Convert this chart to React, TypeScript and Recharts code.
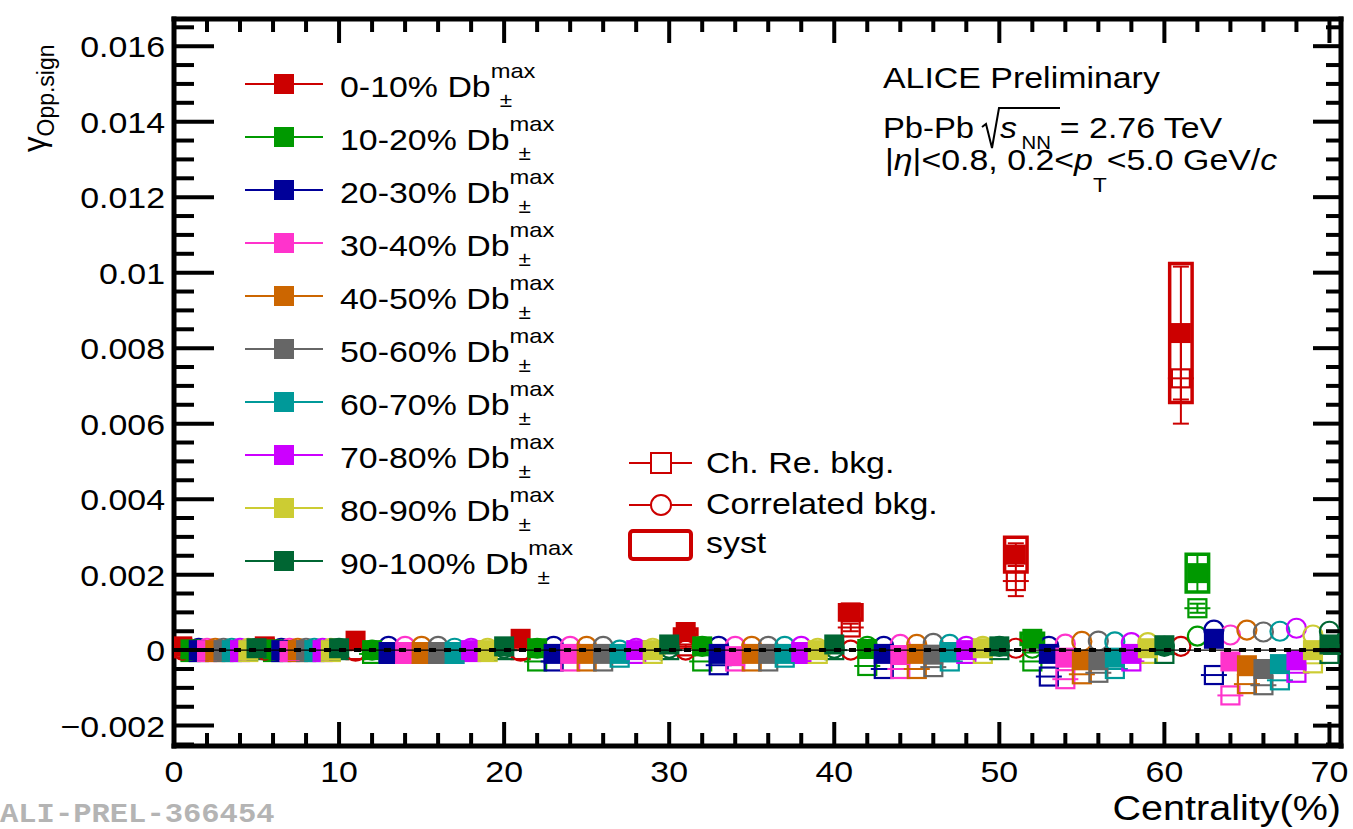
import React from "react";
import { ScatterChart, Scatter, XAxis, YAxis, ErrorBar, ReferenceArea } from "recharts";

const FONT = "'Liberation Sans', Arial, Helvetica, sans-serif";
const SX = 1.13; // the picture is stretched horizontally

// centrality bins; each bin holds the 10 Db classes side by side
const binLow = [0, 5, 10, 20, 30, 40, 50, 60];
const binStep = [0.5, 0.5, 1, 1, 1, 1, 1, 1];

const xMajorTicks = [0, 10, 20, 30, 40, 50, 60, 70];
const xTickLabels = ["0", "10", "20", "30", "40", "50", "60", "70"];
const yMajorTicks = [-0.002, 0, 0.002, 0.004, 0.006, 0.008, 0.01, 0.012, 0.014, 0.016];
const yTickLabels = ["\u22120.002", "0", "0.002", "0.004", "0.006", "0.008", "0.01", "0.012", "0.014", "0.016"];

// gamma opp. sign, filled markers (one value per centrality bin)
const gamma_0_10 = [0.0001, 0.0001, 0.00025, 0.0003, 0.00048, 0.001, 0.00253, 0.0084];
const gamma_10_20 = [0.00002, 0.00002, 0.0, 0.00005, 0.0001, 0.00003, 0.0003, 0.00204];
const gamma_20_30 = [0.0, 0.0, -0.00005, -0.0001, -0.0001, -0.0001, -0.0001, 0.0003];
const gamma_30_40 = [0.0, -0.00002, -0.00005, -0.0001, -0.00016, -0.00013, -0.0002, -0.0003];
const gamma_40_50 = [0.0, 0.0, -0.00005, -0.0001, -0.0001, -0.0001, -0.00027, -0.0004];
const gamma_50_60 = [0.0, 0.0, -0.00005, -0.0001, -0.0001, -0.00012, -0.00027, -0.0005];
const gamma_60_70 = [0.0, 0.0, -0.00005, -0.0001, -0.0001, -0.00005, -0.0002, -0.00037];
const gamma_70_80 = [0.0, 0.0, 0.0, 0.0, -0.00005, 0.0, -0.0001, -0.00027];
const gamma_80_90 = [0.0, 0.0, 0.0, 0.0, 0.0, 0.00005, 0.00005, 0.0];
const gamma_90_100 = [0.00005, 0.00005, 0.0001, 0.00015, 0.00015, 0.0001, 0.00013, 0.00015];

// charge reshuffled background (open squares)
const chRe_0_10 = [0.00005, 0.00005, 0.0, 0.0, 0.0001, 0.0006, 0.00183, 0.0072];
const chRe_10_20 = [-0.00005, -0.00005, -0.0001, -0.0003, -0.0003, -0.00042, -0.0003, 0.00111];
const chRe_20_30 = [-0.00005, -0.00005, -0.0001, -0.0003, -0.0004, -0.0005, -0.0007, -0.00066];
const chRe_30_40 = [-0.00005, -0.00005, -0.0001, -0.0003, -0.0003, -0.0005, -0.00077, -0.0012];
const chRe_40_50 = [-0.00005, -0.00005, -0.0001, -0.0003, -0.0003, -0.0005, -0.00064, -0.0009];
const chRe_50_60 = [-0.00005, -0.00005, -0.0001, -0.0003, -0.0003, -0.00045, -0.0006, -0.00093];
const chRe_60_70 = [-0.00005, -0.00005, -0.0001, -0.0002, -0.0002, -0.0003, -0.0005, -0.0008];
const chRe_70_80 = [-0.00005, -0.00005, -0.00005, -0.0001, -0.0001, -0.0001, -0.0003, -0.0006];
const chRe_80_90 = [-0.00005, -0.00005, -0.00005, -0.0001, -0.0001, -0.0001, -0.0001, -0.00035];
const chRe_90_100 = [0.0, 0.0, 0.0, 0.0, 0.0, 0.0, -0.0001, -0.0001];

// correlated background (open circles)
const corr_0_10 = [0.0, 0.0, -0.00003, -0.00003, 0.0, 0.0, 0.00005, 0.0001];
const corr_10_20 = [0.0, 0.0, 0.0, 0.00005, 0.0001, 0.0001, 0.00005, 0.00037];
const corr_20_30 = [0.00005, 0.00005, 0.0001, 0.0001, 0.0001, 0.0001, 0.0001, 0.00053];
const corr_30_40 = [0.00005, 0.00005, 0.0001, 0.0001, 0.0001, 0.00015, 0.00016, 0.0004];
const corr_40_50 = [0.00005, 0.00005, 0.0001, 0.0001, 0.0001, 0.00015, 0.00023, 0.00053];
const corr_50_60 = [0.00005, 0.00005, 0.0001, 0.0001, 0.0001, 0.00018, 0.00024, 0.00048];
const corr_60_70 = [0.00005, 0.00005, 0.00005, 0.0, 0.0001, 0.00015, 0.00022, 0.0005];
const corr_70_80 = [0.00005, 0.00005, 0.00005, 0.00005, 0.0001, 0.0001, 0.0002, 0.00058];
const corr_80_90 = [0.00005, 0.00005, 0.00005, 0.00005, 0.00005, 0.0001, 0.0002, 0.0004];
const corr_90_100 = [0.00005, 0.00005, 0.00005, 0.00005, 0.00005, 0.0001, 0.0001, 0.0005];

// errors (only visible for the most central classes)
const stat_0_10 = [0.00002, 0.00002, 0.00004, 0.00005, 0.00008, 0.0001, 0.0003, 0.00176];
const syst_0_10 = [0.0, 0.0, 0.0, 0.0, 0.00008, 0.0002, 0.00046, 0.00184];
const chReErr_0_10 = [0.0, 0.0, 0.0, 0.0, 0.00005, 0.0001, 0.0004, 0.0012];
const stat_10_20 = [0.0, 0.0, 0.0, 0.0, 0.0, 0.0, 0.0001, 0.0005];
const syst_10_20 = [0.0, 0.0, 0.0, 0.0, 0.0, 0.0, 0.00015, 0.0005];
const chReErr_10_20 = [0.0, 0.0, 0.0, 0.0, 0.0, 0.0, 0.0, 0.00012];
const noErr = [0, 0, 0, 0, 0, 0, 0, 0];

const classes = [
  { label: "0-10%", color: "#cc0000", main: gamma_0_10, chRe: chRe_0_10, corr: corr_0_10, stat: stat_0_10, syst: syst_0_10, chReErr: chReErr_0_10 },
  { label: "10-20%", color: "#009900", main: gamma_10_20, chRe: chRe_10_20, corr: corr_10_20, stat: stat_10_20, syst: syst_10_20, chReErr: chReErr_10_20 },
  { label: "20-30%", color: "#000099", main: gamma_20_30, chRe: chRe_20_30, corr: corr_20_30, stat: noErr, syst: noErr, chReErr: noErr },
  { label: "30-40%", color: "#ff33cc", main: gamma_30_40, chRe: chRe_30_40, corr: corr_30_40, stat: noErr, syst: noErr, chReErr: noErr },
  { label: "40-50%", color: "#cc6600", main: gamma_40_50, chRe: chRe_40_50, corr: corr_40_50, stat: noErr, syst: noErr, chReErr: noErr },
  { label: "50-60%", color: "#666666", main: gamma_50_60, chRe: chRe_50_60, corr: corr_50_60, stat: noErr, syst: noErr, chReErr: noErr },
  { label: "60-70%", color: "#009999", main: gamma_60_70, chRe: chRe_60_70, corr: corr_60_70, stat: noErr, syst: noErr, chReErr: noErr },
  { label: "70-80%", color: "#cc00ff", main: gamma_70_80, chRe: chRe_70_80, corr: corr_70_80, stat: noErr, syst: noErr, chReErr: noErr },
  { label: "80-90%", color: "#cccc33", main: gamma_80_90, chRe: chRe_80_90, corr: corr_80_90, stat: noErr, syst: noErr, chReErr: noErr },
  { label: "90-100%", color: "#006633", main: gamma_90_100, chRe: chRe_90_100, corr: corr_90_100, stat: noErr, syst: noErr, chReErr: noErr },
];

const X_MAX = 70.7;
const Y_MIN = -0.00254;
const Y_MAX = 0.01672;
const BOX_HALF = 0.68;

// zero reference line, drawn on top of the markers
const zeroLine = [{ x: 0, y: 0 }, { x: X_MAX, y: 0 }];

const xAll: number[] = [];
for (let v = 0; v <= 70; v += 2) xAll.push(v);
const yAll: number[] = [];
for (let i = -5; i <= 33; i++) yAll.push(i * 0.0005);

const isMajor = (arr: number[], v: number) => arr.findIndex((t) => Math.abs(t - v) < 1e-9);

const points = (vals: number[], k: number, errs: number[]) =>
  vals.map((y, b) => ({ x: binLow[b] + (k + 1) * binStep[b], y, err: errs[b] }));

function T({ x, y, size = 30, anchor = "start", children, color = "#000", italic = false }: any) {
  return (
    <text transform={`translate(${x},${y}) scale(${SX},1)`} fontSize={size} fontFamily={FONT} textAnchor={anchor} fill={color}
      fontStyle={italic ? "italic" : "normal"}>
      {children}
    </text>
  );
}

const LeftTick = (p: any) => {
  const i = isMajor(yMajorTicks, p.payload.value);
  return (
    <g>
      <line x1={p.x} x2={p.x + (i >= 0 ? 40 : 20)} y1={p.y} y2={p.y} stroke="#000" strokeWidth={4} />
      {i >= 0 && <T x={p.x - 9} y={p.y + 11} anchor="end">{yTickLabels[i]}</T>}
    </g>
  );
};
const RightTick = (p: any) => {
  const i = isMajor(yMajorTicks, p.payload.value);
  return <line x1={p.x} x2={p.x - (i >= 0 ? 28 : 15)} y1={p.y} y2={p.y} stroke="#000" strokeWidth={4} />;
};
const BottomTick = (p: any) => {
  const i = isMajor(xMajorTicks, p.payload.value);
  return (
    <g>
      <line x1={p.x} x2={p.x} y1={p.y} y2={p.y - (i >= 0 ? 24 : 13)} stroke="#000" strokeWidth={4} />
      {i >= 0 && <T x={p.x} y={p.y + 36} anchor="middle">{xTickLabels[i]}</T>}
    </g>
  );
};
const TopTick = (p: any) => {
  const i = isMajor(xMajorTicks, p.payload.value);
  return <line x1={p.x} x2={p.x} y1={p.y} y2={p.y + (i >= 0 ? 24 : 13)} stroke="#000" strokeWidth={4} />;
};

const filledSquare = (c: string) => (p: any) => <rect x={p.cx - 10} y={p.cy - 10} width={20} height={20} fill={c} />;
const openSquare = (c: string) => (p: any) => (
  <g>
    <rect x={p.cx - 9} y={p.cy - 9} width={18} height={18} fill="none" stroke={c} strokeWidth={2.2} />
    <line x1={p.cx - 13} x2={p.cx + 13} y1={p.cy} y2={p.cy} stroke={c} strokeWidth={2} />
  </g>
);
const openCircle = (c: string) => (p: any) => <circle cx={p.cx} cy={p.cy} r={9.5} fill="none" stroke={c} strokeWidth={2.2} />;
const noMarker = () => <g />;

const legendRows = classes.map((c, i) => ({ ...c, y: 84 + i * 53 }));

export default function App() {
  return (
    <div style={{ position: "absolute", left: 0, top: 0, width: 1353, height: 829, background: "#fff" }}>
      <ScatterChart width={1353} height={829} margin={{ top: 0, right: 0, bottom: 0, left: 0 }}>
        <XAxis xAxisId="b" type="number" dataKey="x" domain={[0, X_MAX]} allowDataOverflow ticks={xAll} interval={0}
          tickSize={0} tickMargin={0} height={83} tickLine={false} tick={<BottomTick />}
          axisLine={{ stroke: "#000", strokeWidth: 5, strokeLinecap: "square" }} />
        <XAxis xAxisId="t" orientation="top" type="number" dataKey="x" domain={[0, X_MAX]} allowDataOverflow ticks={xAll} interval={0}
          tickSize={0} tickMargin={0} height={19} tickLine={false} tick={<TopTick />}
          axisLine={{ stroke: "#000", strokeWidth: 5, strokeLinecap: "square" }} />
        <YAxis yAxisId="l" type="number" dataKey="y" domain={[Y_MIN, Y_MAX]} allowDataOverflow ticks={yAll} interval={0}
          tickSize={0} tickMargin={0} width={174} tickLine={false} tick={<LeftTick />}
          axisLine={{ stroke: "#000", strokeWidth: 5, strokeLinecap: "square" }} />
        <YAxis yAxisId="r" orientation="right" type="number" dataKey="y" domain={[Y_MIN, Y_MAX]} allowDataOverflow ticks={yAll} interval={0}
          tickSize={0} tickMargin={0} width={12} tickLine={false} tick={<RightTick />}
          axisLine={{ stroke: "#000", strokeWidth: 5, strokeLinecap: "square" }} />

        {classes.map((c, k) =>
          c.main.map((y, b) =>
            c.syst[b] > 0 ? (
              <ReferenceArea key={`syst-${k}-${b}`} xAxisId="b" yAxisId="l"
                x1={binLow[b] + (k + 1) * binStep[b] - BOX_HALF} x2={binLow[b] + (k + 1) * binStep[b] + BOX_HALF}
                y1={y - c.syst[b]} y2={y + c.syst[b]} fill="none" stroke={c.color} strokeWidth={3.5} ifOverflow="visible" />
            ) : null
          )
        )}

        {classes.map((c, k) => (
          <Scatter key={`chre-${k}`} xAxisId="b" yAxisId="l" data={points(c.chRe, k, c.chReErr)} shape={openSquare(c.color)} isAnimationActive={false}>
            <ErrorBar dataKey="err" direction="y" width={8} stroke={c.color} strokeWidth={2} />
          </Scatter>
        ))}
        {classes.map((c, k) => (
          <Scatter key={`corr-${k}`} xAxisId="b" yAxisId="l" data={points(c.corr, k, noErr)} shape={openCircle(c.color)} isAnimationActive={false} />
        ))}
        {classes.map((c, k) => (
          <Scatter key={`main-${k}`} xAxisId="b" yAxisId="l" data={points(c.main, k, c.stat)} shape={filledSquare(c.color)} isAnimationActive={false}>
            <ErrorBar dataKey="err" direction="y" width={8} stroke={c.color} strokeWidth={2} />
          </Scatter>
        ))}

        <Scatter xAxisId="b" yAxisId="l" data={zeroLine} shape={noMarker} isAnimationActive={false}
          line={{ stroke: "#000", strokeWidth: 1.2 }} />
        <Scatter xAxisId="b" yAxisId="l" data={zeroLine} shape={noMarker} isAnimationActive={false}
          line={{ stroke: "#000", strokeWidth: 4, strokeDasharray: "7 8" }} />
      </ScatterChart>

      <svg width={1353} height={829} style={{ position: "absolute", left: 0, top: 0, pointerEvents: "none" }}>
        {/* Db class legend */}
        {legendRows.map((r) => (
          <g key={r.label}>
            <line x1={245} x2={323} y1={r.y} y2={r.y} stroke={r.color} strokeWidth={2} />
            <rect x={274} y={r.y - 10} width={20} height={20} fill={r.color} />
            <text transform={`translate(340,${r.y + 13}) scale(${SX},1)`} fontSize={30} fontFamily={FONT}>
              {`${r.label} Db`}
              <tspan dx={8} dy={10} fontSize={20}>±</tspan>
              <tspan dx={-19} dy={-29} fontSize={21}>max</tspan>
            </text>
          </g>
        ))}

        {/* background legend */}
        <line x1={629} x2={692} y1={463} y2={463} stroke="#cc0000" strokeWidth={2} />
        <rect x={651} y={453} width={20} height={20} fill="#fff" stroke="#cc0000" strokeWidth={2} />
        <T x={706} y={473}>Ch. Re. bkg.</T>
        <line x1={629} x2={692} y1={505} y2={505} stroke="#cc0000" strokeWidth={2} />
        <circle cx={661} cy={505} r={10} fill="#fff" stroke="#cc0000" strokeWidth={2} />
        <T x={706} y={514}>Correlated bkg.</T>
        <rect x={630} y={531} width={61} height={28} rx={3} fill="none" stroke="#cc0000" strokeWidth={4} />
        <T x={706} y={553}>syst</T>

        {/* header */}
        <T x={883} y={88}>ALICE Preliminary</T>
        <T x={883} y={138} size={29}>Pb-Pb</T>
        <path d="M 982 127 L 986 124 L 992 148 L 999 108 L 1060 108" fill="none" stroke="#000" strokeWidth={2} />
        <text transform={`translate(1000,138) scale(${SX},1)`} fontSize={30} fontFamily={FONT}>
          <tspan fontStyle="italic">s</tspan>
          <tspan dx={4} dy={11} fontSize={18}>NN</tspan>
          <tspan dx={8} dy={-11}>= 2.76 TeV</tspan>
        </text>
        <text transform={`translate(885,170) scale(${SX},1)`} fontSize={30} fontFamily={FONT}>
          |<tspan fontStyle="italic">η</tspan>|&lt;0.8, 0.2&lt;<tspan fontStyle="italic">p</tspan>
          <tspan dy={22} fontSize={20}>T</tspan>
          <tspan dy={-22}>&lt;5.0 GeV/</tspan>
          <tspan fontStyle="italic">c</tspan>
        </text>

        {/* axis titles */}
        <T x={1341} y={820} size={35} anchor="end">Centrality(%)</T>
        <text transform="translate(45,152) rotate(-90)" fontSize={31} fontFamily={FONT}>
          γ<tspan dy={9} fontSize={23}>Opp.sign</tspan>
        </text>

        <text transform={`translate(0,822) scale(${SX},1)`} fontSize={27} fontWeight="bold" fontFamily="'Liberation Mono', 'DejaVu Sans Mono', monospace" fill="#b4b4b4">
          ALI-PREL-366454
        </text>
      </svg>
    </div>
  );
}
